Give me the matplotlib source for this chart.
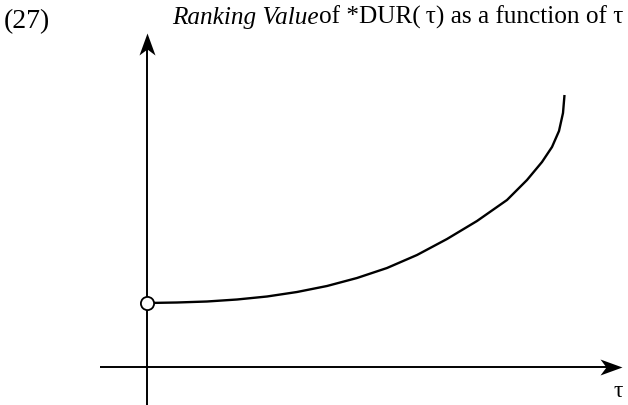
import matplotlib
matplotlib.use("Agg")
import matplotlib.pyplot as plt
from matplotlib.path import Path

# Data (tau vs ranking value, arbitrary units)
tau = [0, 30, 60, 90, 120, 150, 180, 210, 240, 270, 300, 330, 360, 380,
       395, 405, 412, 416, 417.5]
value = [64, 64.5, 65.5, 67.5, 70.5, 75, 81, 89, 99, 112, 128, 146, 167,
         187, 205, 220, 236, 254, 272]
open_point = (0, 64)

title_italic = "Ranking Value"
title_rest = "of *DUR(\u2009\u03c4) as a function of \u03c4"
label_num = "(27)"
x_label = "\u03c4"

W, H = 628, 405
fig = plt.figure(figsize=(W / 100, H / 100), dpi=100)
ax = fig.add_axes([0, 0, 1, 1])
ax.set_xlim(-147, W - 147)
ax.set_ylim(-(H - 367), 367)
ax.axis("off")

serif = ["Liberation Serif", "DejaVu Serif"]

# notched arrowhead shapes (tip at origin)
L, Wd, N = 22.0, 8.0, 16.0
right_head = Path([(0, 0), (-L, Wd), (-N, 0), (-L, -Wd), (0, 0)],
                  [Path.MOVETO, Path.LINETO, Path.LINETO, Path.LINETO, Path.CLOSEPOLY])
up_head = Path([(0, 0), (Wd, -L), (0, -N), (-Wd, -L), (0, 0)],
               [Path.MOVETO, Path.LINETO, Path.LINETO, Path.LINETO, Path.CLOSEPOLY])
ms_head = 2 * L * 0.72

y_top, x_right = 334, 475
ax.plot([0, 0], [-40, y_top - 5], color="black", lw=1.4, solid_capstyle="butt")
ax.plot([-47, x_right - 5], [0, 0], color="black", lw=1.4, solid_capstyle="butt")
ax.plot([0], [y_top], marker=up_head, ms=ms_head, color="black", mew=0)
ax.plot([x_right], [0], marker=right_head, ms=ms_head, color="black", mew=0)

# curve
ax.plot(tau, value, color="black", lw=1.7, solid_capstyle="butt",
        solid_joinstyle="round", zorder=3)
ax.plot([open_point[0]], [open_point[1]], marker="o", ms=9.5, mfc="white",
        mec="black", mew=1.3, zorder=4)

# labels
ax.text(471, -30, x_label, fontsize=17, family=serif, ha="center", va="baseline")

fs = 18.2
ax.text(-143, 339, label_num, fontsize=20, family=serif, va="baseline", ha="left")
t1 = ax.text(25, 343, title_italic, fontsize=fs, family=serif, style="italic",
             va="baseline", ha="left")
fig.canvas.draw()
r = fig.canvas.get_renderer()
bb = t1.get_window_extent(r)
x_end = ax.transData.inverted().transform((bb.x1, bb.y0))[0]
ax.text(x_end, 343, title_rest, fontsize=fs, family=serif, va="baseline", ha="left")

fig.savefig("out.png", dpi=100)
